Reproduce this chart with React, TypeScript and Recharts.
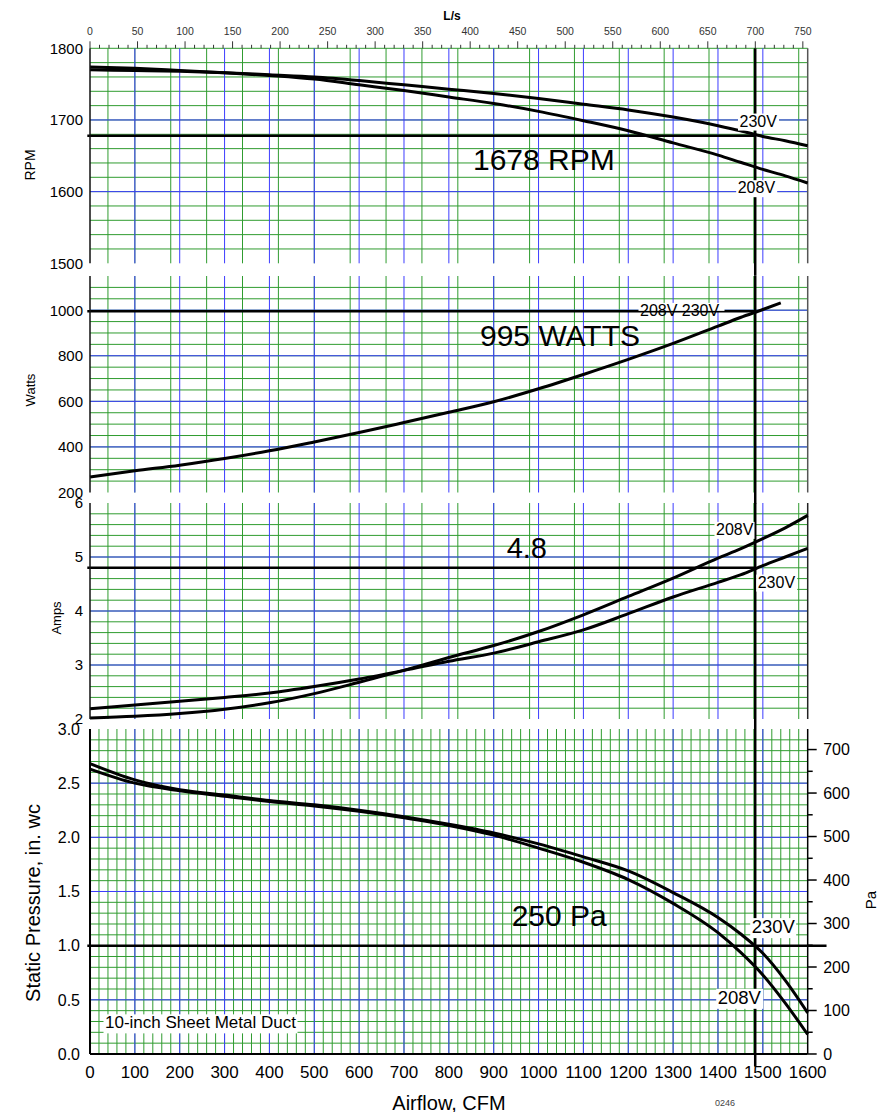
import { LineChart, Line, XAxis, YAxis, CartesianGrid, ReferenceLine } from 'recharts';

const FONT = '"Liberation Sans", Arial, Helvetica, sans-serif';
const GREEN = '#2f9c2f';
const BLUE = '#3c3cff';

// airflow sample points (CFM)
const airflowCfm = [0, 100, 200, 300, 400, 500, 600, 700, 800, 900, 1000, 1100, 1200, 1300, 1400, 1450, 1500, 1550, 1600];

const rpm208 = [1774, 1772, 1769, 1766, 1762, 1757, 1749, 1741, 1732, 1723, 1712, 1699, 1685, 1668, 1651, 1641, 1631, 1622, 1612];
const rpm230 = [1770, 1769, 1768, 1766, 1763, 1760, 1755, 1749, 1743, 1737, 1730, 1722, 1714, 1704, 1692, 1685, 1677, 1671, 1664];

const amps208 = [2.02, 2.05, 2.1, 2.18, 2.3, 2.47, 2.68, 2.9, 3.14, 3.36, 3.62, 3.93, 4.27, 4.61, 4.98, 5.15, 5.34, 5.54, 5.77];
const amps230 = [2.19, 2.26, 2.33, 2.4, 2.48, 2.6, 2.74, 2.9, 3.07, 3.22, 3.43, 3.65, 3.95, 4.26, 4.53, 4.67, 4.84, 5.0, 5.16];

const sp208 = [2.63, 2.5, 2.43, 2.38, 2.33, 2.29, 2.24, 2.18, 2.11, 2.02, 1.9, 1.77, 1.61, 1.39, 1.12, 0.94, 0.73, 0.47, 0.18];
const sp230 = [2.68, 2.53, 2.44, 2.39, 2.34, 2.3, 2.25, 2.19, 2.12, 2.04, 1.94, 1.82, 1.69, 1.49, 1.26, 1.11, 0.93, 0.68, 0.38];

// watts curve is shared by both voltages and stops short of 1600
const wattsCfm = [0, 100, 200, 300, 400, 500, 600, 700, 800, 900, 1000, 1100, 1200, 1300, 1400, 1450, 1500, 1540];
const watts = [268, 295, 320, 349, 383, 422, 463, 507, 552, 598, 655, 718, 784, 854, 930, 968, 1003, 1032];

// operating point (700 L/s)
const OP_CFM = 1483;
const OP_RPM = 1678;
const OP_WATTS = 995;
const OP_AMPS = 4.8;
const OP_SP = 1.0;

const CFM_PER_LS = 2.11888;
const PA_PER_INWC = 249.089;

const range = (a: number, b: number, s: number) => {
  const out: number[] = [];
  for (let v = a; v <= b + 1e-9; v += s) out.push(+v.toFixed(3));
  return out;
};

const cfmTicks = range(0, 1600, 100);
const lsTicks = range(0, 750, 10);
const rpmTicks = [1500, 1600, 1700, 1800];
const wattTicks = [200, 400, 600, 800, 1000];
const ampTicks = [2, 3, 4, 5, 6];
const spTicks = [0, 0.5, 1, 1.5, 2, 2.5, 3];
const paTicks = range(0, 700, 50);

// layout (page px)
const CHART_W = 879;
const PLOT_RIGHT = 807.7;
const RIGHT = CHART_W - PLOT_RIGHT;
const Y_AXIS_W = 90;

const rpmP = { top: 0, plotTop: 48.3, plotBottom: 263.3, bottom: 275.8, min: 1500, max: 1800 };
const wattP = { top: 275.8, plotTop: 275.8, plotBottom: 492.3, bottom: 503.3, min: 200, max: 1150 };
const ampP = { top: 503.3, plotTop: 503.3, plotBottom: 719.3, bottom: 729.3, min: 2, max: 6 };
const spP = { top: 729.3, plotTop: 729.3, plotBottom: 1054.3, bottom: 1112, min: 0, max: 3 };

// value reached a number of px below the plot bottom
const below = (p: typeof rpmP, px: number) => p.min - (px / (p.plotBottom - p.plotTop)) * (p.max - p.min);

// ls carries the same airflow in L/s for the top axis
const rpmRows = airflowCfm.map((cfm, i) => ({ cfm, ls: cfm / CFM_PER_LS, v208: rpm208[i], v230: rpm230[i] }));
const wattRows = wattsCfm.map((cfm, i) => ({ cfm, w: watts[i] }));
const ampRows = airflowCfm.map((cfm, i) => ({ cfm, v208: amps208[i], v230: amps230[i] }));
const spRows = airflowCfm.map((cfm, i) => ({ cfm, v208: sp208[i], v230: sp230[i] }));

const yTick = { fontSize: 15, fill: '#000', fontFamily: FONT };
const axisLine = { stroke: '#111', strokeWidth: 1.5 };

function grids(minorY: number[], majorY: number[]) {
  return [
    <CartesianGrid key="g1" stroke={GREEN} strokeWidth={1} horizontalValues={minorY} verticalValues={range(20, 1580, 20)} />,
    <CartesianGrid key="g2" stroke={BLUE} strokeWidth={1} horizontalValues={majorY} verticalValues={range(100, 1500, 100)} />,
  ];
}

function LsTick(props: any) {
  const { x, y, payload } = props;
  const major = payload.value % 50 === 0;
  return (
    <g>
      <line x1={x} x2={x} y1={major ? y : y + 3.5} y2={y + 7} stroke="#333" strokeWidth={1} />
      {major && (
        <text x={x} y={y - 6} textAnchor="middle" fontSize={10.5} fill="#333" fontFamily={FONT}>
          {payload.value}
        </text>
      )}
    </g>
  );
}

function PaTick(props: any) {
  const { x, y, payload } = props;
  const major = payload.value % 100 === 0;
  return (
    <g>
      <line x1={x - 9} x2={major ? x : x - 4} y1={y} y2={y} stroke="#000" strokeWidth={1.5} />
      {major && (
        <text x={x + 6.5} y={y} dy="0.36em" fontSize={16} fill="#000" fontFamily={FONT}>
          {payload.value}
        </text>
      )}
    </g>
  );
}

const curve = (key: string) => (
  <Line key={key} dataKey={key} type="monotone" stroke="#000" strokeWidth={3} dot={false} isAnimationActive={false} />
);

function Tag({ x, y, text, size, w, h }: { x: number; y: number; text: string; size: number; w: number; h: number }) {
  return (
    <g>
      <rect x={x - 1.5} y={y - size * 0.82} width={w} height={h} fill="#fff" />
      <text x={x} y={y} fontSize={size} fill="#000">{text}</text>
    </g>
  );
}

const Rot = ({ cx, cy, size, text }: { cx: number; cy: number; size: number; text: string }) => (
  <text transform={`translate(${cx},${cy}) rotate(-90)`} textAnchor="middle" dominantBaseline="central" fontSize={size} fill="#000">
    {text}
  </text>
);

export default function App() {
  const box = (p: typeof rpmP) => ({ position: 'absolute' as const, left: 0, top: p.top });
  return (
    <div style={{ position: 'absolute', left: 0, top: 0, width: 879, height: 1112, background: '#fff', fontFamily: FONT }}>
      <style>{'.recharts-surface { overflow: visible; }'}</style>
      {/* RPM */}
      <div style={box(rpmP)}>
        <LineChart width={CHART_W} height={rpmP.bottom - rpmP.top} data={rpmRows}
          margin={{ top: 0, right: RIGHT, bottom: rpmP.bottom - rpmP.plotBottom, left: 0 }}>
          {grids(range(1520, 1800, 20), [1600, 1700])}
          <XAxis dataKey="cfm" type="number" domain={[0, 1600]} hide />
          <XAxis xAxisId="ls" dataKey="ls" orientation="top" type="number" domain={[0, 1600 / CFM_PER_LS]} allowDataOverflow
            ticks={lsTicks} interval={0} height={rpmP.plotTop} axisLine={false} tickLine={false} tickSize={7} tickMargin={0}
            tick={<LsTick />} />
          <YAxis type="number" domain={[rpmP.min, rpmP.max]} ticks={rpmTicks} interval={0} width={Y_AXIS_W}
            tickSize={0} tickMargin={7} tickLine={false} axisLine={axisLine} tick={yTick} />
          <ReferenceLine x={1600} stroke="#555" strokeWidth={1.5} />
          <ReferenceLine segment={[{ x: -6, y: OP_RPM }, { x: OP_CFM, y: OP_RPM }]} stroke="#000" strokeWidth={2.5} ifOverflow="visible" />
          {curve('v208')}
          {curve('v230')}
          <ReferenceLine segment={[{ x: OP_CFM, y: rpmP.max }, { x: OP_CFM, y: below(rpmP, rpmP.bottom - rpmP.plotBottom) }]}
            stroke="#000" strokeWidth={2.5} ifOverflow="visible" />
        </LineChart>
      </div>

      {/* Watts */}
      <div style={box(wattP)}>
        <LineChart width={CHART_W} height={wattP.bottom - wattP.top} data={wattRows}
          margin={{ top: 0, right: RIGHT, bottom: wattP.bottom - wattP.plotBottom, left: 0 }}>
          {grids(range(250, 1100, 50), [400, 600, 800, 1000])}
          <XAxis dataKey="cfm" type="number" domain={[0, 1600]} hide />
          <YAxis type="number" domain={[wattP.min, wattP.max]} ticks={wattTicks} interval={0} width={Y_AXIS_W}
            tickSize={0} tickMargin={7} tickLine={false} axisLine={axisLine} tick={yTick} />
          <ReferenceLine x={1600} stroke="#555" strokeWidth={1.5} />
          <ReferenceLine segment={[{ x: -6, y: OP_WATTS }, { x: OP_CFM, y: OP_WATTS }]} stroke="#000" strokeWidth={2.5} ifOverflow="visible" />
          {curve('w')}
          <ReferenceLine segment={[{ x: OP_CFM, y: wattP.max }, { x: OP_CFM, y: below(wattP, wattP.bottom - wattP.plotBottom) }]}
            stroke="#000" strokeWidth={2.5} ifOverflow="visible" />
        </LineChart>
      </div>

      {/* Amps */}
      <div style={box(ampP)}>
        <LineChart width={CHART_W} height={ampP.bottom - ampP.top} data={ampRows}
          margin={{ top: 0, right: RIGHT, bottom: ampP.bottom - ampP.plotBottom, left: 0 }}>
          {grids(range(2.2, 5.8, 0.2), [3, 4, 5])}
          <XAxis dataKey="cfm" type="number" domain={[0, 1600]} hide />
          <YAxis type="number" domain={[ampP.min, ampP.max]} ticks={ampTicks} interval={0} width={Y_AXIS_W}
            tickSize={0} tickMargin={7} tickLine={false} axisLine={axisLine} tick={yTick} />
          <ReferenceLine x={1600} stroke="#222" strokeWidth={1.5} />
          <ReferenceLine segment={[{ x: -6, y: OP_AMPS }, { x: OP_CFM, y: OP_AMPS }]} stroke="#000" strokeWidth={2.5} ifOverflow="visible" />
          {curve('v208')}
          {curve('v230')}
          <ReferenceLine segment={[{ x: OP_CFM, y: ampP.max }, { x: OP_CFM, y: below(ampP, ampP.bottom - ampP.plotBottom) }]}
            stroke="#000" strokeWidth={2.5} ifOverflow="visible" />
        </LineChart>
      </div>

      {/* Static pressure */}
      <div style={box(spP)}>
        <LineChart width={CHART_W} height={spP.bottom - spP.top} data={spRows}
          margin={{ top: 0, right: 0, bottom: 0, left: 0 }}>
          {grids(range(0.1, 2.9, 0.1), [0.5, 1, 1.5, 2, 2.5])}
          <XAxis dataKey="cfm" type="number" domain={[0, 1600]} ticks={cfmTicks} interval={0}
            height={spP.bottom - spP.plotBottom} tickSize={0} tickMargin={12} tickLine={false}
            axisLine={{ stroke: '#000', strokeWidth: 2 }} tick={{ fontSize: 17, fill: '#000', fontFamily: FONT }} />
          <YAxis type="number" domain={[spP.min, spP.max]} ticks={spTicks} interval={0} width={Y_AXIS_W}
            tickSize={0} tickMargin={10} tickLine={false} axisLine={{ stroke: '#000', strokeWidth: 2 }}
            tick={{ fontSize: 16, fill: '#000', fontFamily: FONT }} tickFormatter={(v: number) => v.toFixed(1)} />
          <YAxis yAxisId="pa" orientation="right" type="number" domain={[0, 3 * PA_PER_INWC]} allowDataOverflow
            ticks={paTicks} interval={0} width={RIGHT} tickSize={9} tickMargin={0} tickLine={false}
            axisLine={{ stroke: '#000', strokeWidth: 1.5 }} tick={<PaTick />} />
          <ReferenceLine segment={[{ x: -6, y: OP_SP }, { x: 1642, y: OP_SP }]} stroke="#000" strokeWidth={2.5} ifOverflow="visible" />
          {curve('v208')}
          {curve('v230')}
          <ReferenceLine segment={[{ x: OP_CFM, y: spP.max }, { x: OP_CFM, y: below(spP, 12.4) }]}
            stroke="#000" strokeWidth={2.5} ifOverflow="visible" />
        </LineChart>
      </div>

      {/* annotations and titles */}
      <svg width={879} height={1112} style={{ position: 'absolute', left: 0, top: 0, pointerEvents: 'none' }} fontFamily={FONT}>
        <text x={452} y={20} textAnchor="middle" fontSize={12} fontWeight="bold" fill="#000">L/s</text>
        <Rot cx={30} cy={165} size={14} text="RPM" />
        <Rot cx={30} cy={390} size={13} text="Watts" />
        <Rot cx={56.5} cy={618} size={13} text="Amps" />
        <Rot cx={32.5} cy={903} size={20} text="Static Pressure, in. wc" />
        <Rot cx={870} cy={900} size={15} text="Pa" />
        <text x={449} y={1109.5} textAnchor="middle" fontSize={20} fill="#000">Airflow, CFM</text>
        <text x={715} y={1106} fontSize={9} fill="#444">0246</text>

        <text x={473} y={170} fontSize={30} fill="#000">1678 RPM</text>
        <text x={480} y={345.7} fontSize={30} fill="#000">995 WATTS</text>
        <text x={506.7} y={558.3} fontSize={29} fill="#000">4.8</text>
        <text x={511.7} y={926} fontSize={30} fill="#000">250 Pa</text>

        <Tag x={739.5} y={126.7} text="230V" size={16} w={41} h={17} />
        <Tag x={737.7} y={193.3} text="208V" size={16} w={41} h={17} />
        <Tag x={640} y={316} text="208V 230V" size={16} w={86} h={8} />
        <Tag x={716} y={535} text="208V" size={16} w={40} h={17} />
        <Tag x={757.7} y={587.7} text="230V" size={16} w={41} h={17} />
        <Tag x={751.7} y={933.3} text="230V" size={18.5} w={46} h={20} />
        <Tag x={717.7} y={1004} text="208V" size={18.5} w={47} h={20} />
        <Tag x={105} y={1028.3} text="10-inch Sheet Metal Duct" size={17} w={194} h={19} />
      </svg>
    </div>
  );
}
